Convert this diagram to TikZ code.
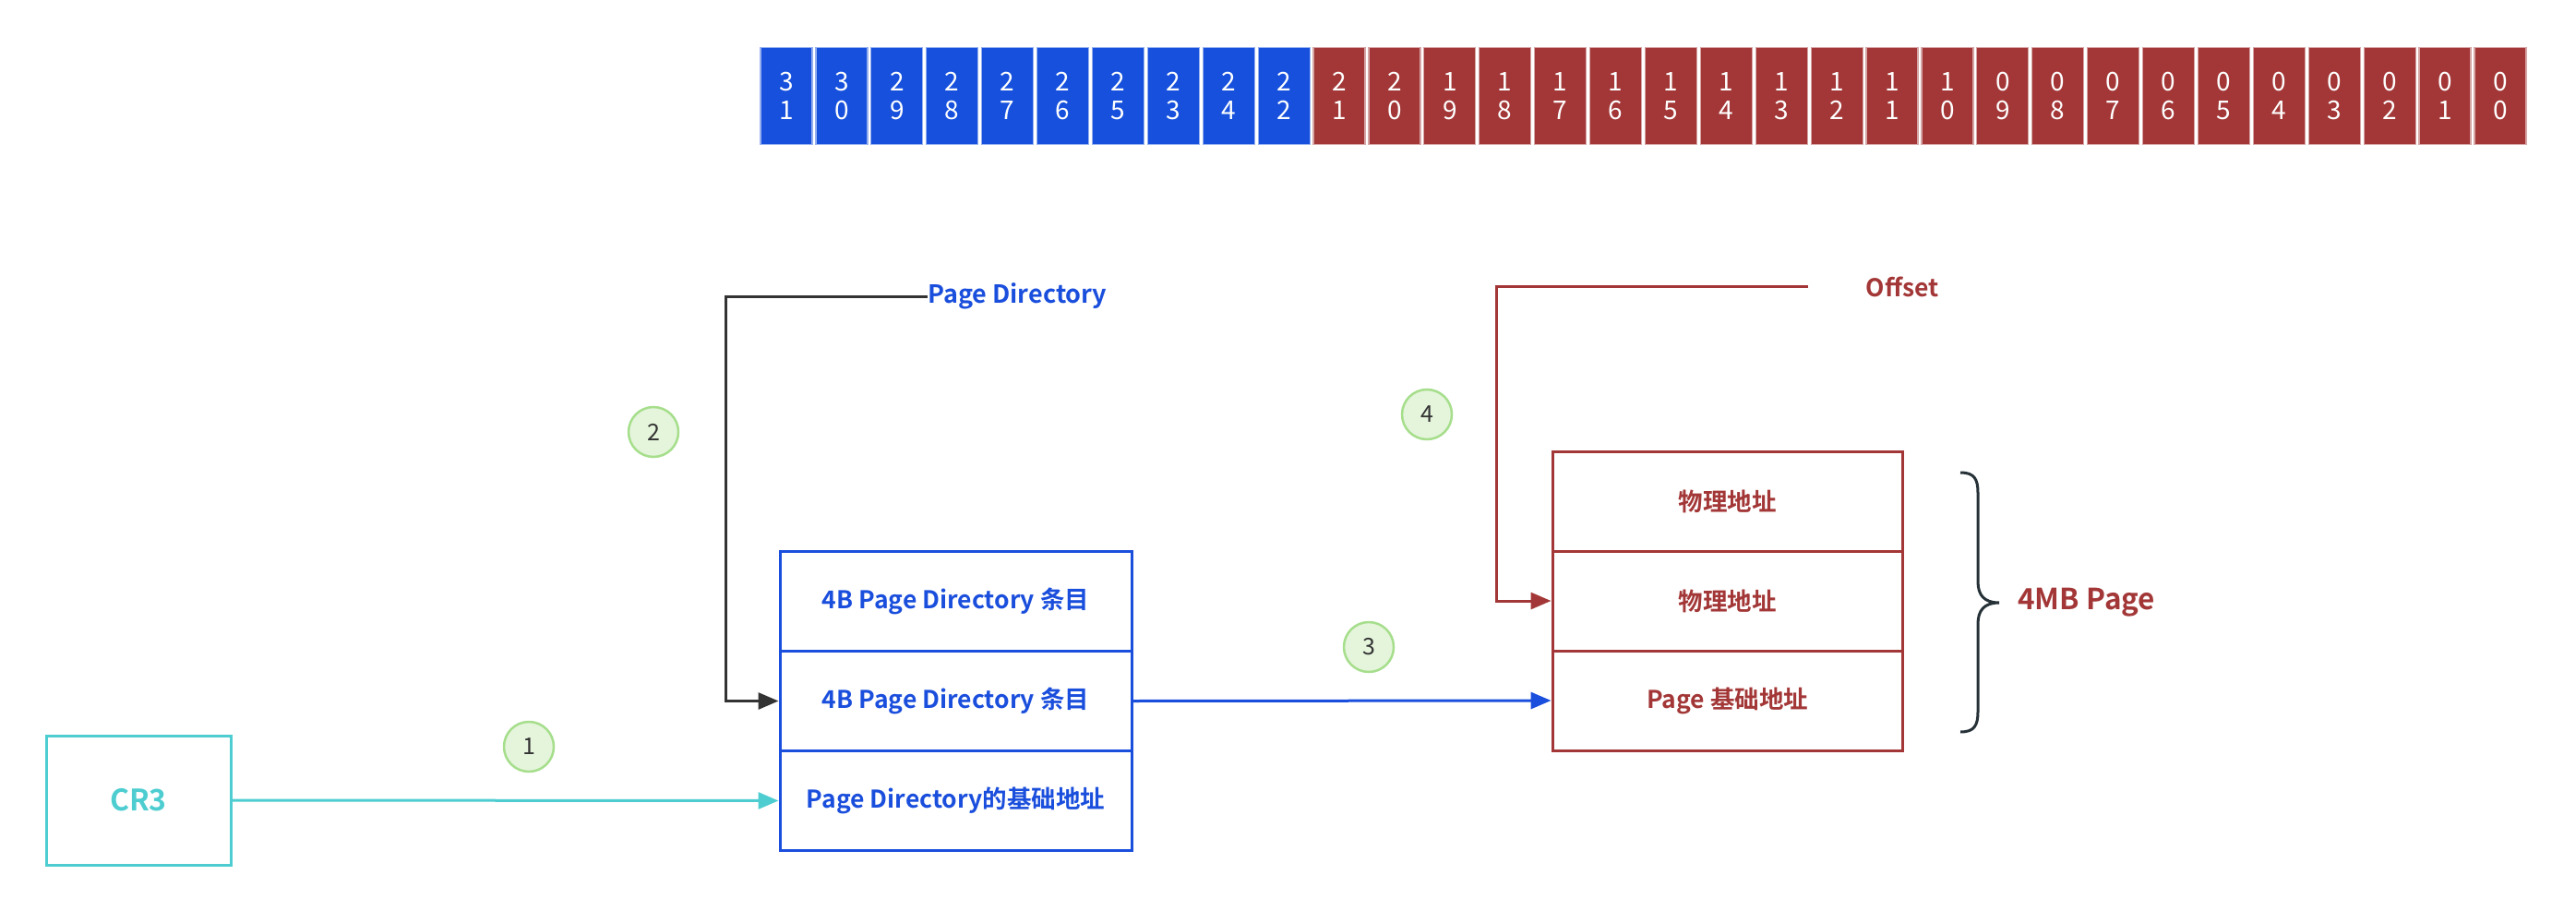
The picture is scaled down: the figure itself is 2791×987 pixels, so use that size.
\documentclass[tikz,border=0pt]{standalone}
\usepackage{fontspec}
\setmainfont{Noto Sans CJK SC}[BoldFont={Noto Sans CJK SC Bold}]
\usetikzlibrary{arrows.meta}
\definecolor{bitblue}{HTML}{1650DC}
\definecolor{bitred}{HTML}{A33737}
\definecolor{pdblue}{HTML}{1A4EDC}
\definecolor{pgred}{HTML}{A33737}
\definecolor{cyanc}{HTML}{4ECDD1}
\definecolor{darkc}{HTML}{333333}
\definecolor{bracec}{HTML}{263238}
\definecolor{stepfill}{HTML}{E5F5DC}
\definecolor{stepdraw}{HTML}{A6DE8C}
\begin{document}
\begin{tikzpicture}[x=1pt,y=-1pt,
  bitcell/.style={minimum width=56pt, minimum height=105pt, inner sep=0pt,
    draw=#1!45!white, line width=1.2pt, fill=#1, text=white, align=center,
    font=\fontsize{28}{31}\selectfont},
  pdrow/.style={draw=pdblue, line width=3pt, minimum width=381pt, minimum height=108pt,
    inner sep=0pt, text=pdblue, font=\fontsize{26.5}{30}\selectfont\bfseries},
  pgrow/.style={draw=pgred, line width=3pt, minimum width=379pt, minimum height=108pt,
    inner sep=0pt, text=pgred, font=\fontsize{26.5}{30}\selectfont\bfseries},
  stepnum/.style={circle, draw=stepdraw, fill=stepfill, line width=2.5pt,
    minimum size=54pt, inner sep=0pt, text=darkc, font=\fontsize{25}{28}\selectfont},
  arr/.style={line width=3pt, -{Triangle[length=22pt,width=18pt]}}
]
\useasboundingbox (0,0) rectangle (2791,987);

% bit bar
\foreach \a/\b [count=\i from 0] in {3/1,3/0,2/9,2/8,2/7,2/6,2/5,2/3,2/4,2/2,2/1,2/0,1/9,1/8,1/7,1/6,1/5,1/4,1/3,1/2,1/1,1/0,0/9,0/8,0/7,0/6,0/5,0/4,0/3,0/2,0/1,0/0} {
  \pgfmathsetmacro\cx{852+\i*59.9}
  \ifnum\i<10 \def\cc{bitblue}\else\def\cc{bitred}\fi
  \node[bitcell=\cc] (bit\i) at (\cx,104) {\a\\\b};
}

% CR3
\node[draw=cyanc, line width=3pt, minimum width=200pt, minimum height=140pt, inner sep=0pt,
  text=cyanc, font=\fontsize{32}{36}\selectfont\bfseries] (cr3) at (150,867) {CR3};

% Page directory table
\node[pdrow] (pd1) at (1035.5,651.5) {4B Page Directory 条目};
\node[pdrow] (pd2) at (1035.5,759.5) {4B Page Directory 条目};
\node[pdrow] (pd3) at (1035.5,867.5) {Page Directory的基础地址};

% 4MB page table
\node[pgrow] (pg1) at (1871.5,543) {物理地址};
\node[pgrow] (pg2) at (1871.5,651) {物理地址};
\node[pgrow] (pg3) at (1871.5,759) {Page 基础地址};

% labels
\node[anchor=west, inner sep=0pt, text=pdblue, font=\fontsize{27}{30}\selectfont\bfseries] (pdlbl) at (1005,321) {Page Directory};
\node[inner sep=0pt, text=pgred, font=\fontsize{26.5}{30}\selectfont\bfseries] (offlbl) at (2061,311) {Offset};
\node[anchor=west, inner sep=0pt, text=pgred, font=\fontsize{31.5}{36}\selectfont\bfseries] (mb4) at (2186,653) {4MB Page};
\coordinate (offend) at (1959,310);

% steps
\node[stepnum] (s1) at (573,809) {1};
\node[stepnum] (s2) at (708,468) {2};
\node[stepnum] (s3) at (1483,701) {3};
\node[stepnum] (s4) at (1546,449) {4};

% connectors
\draw[arr, cyanc] (cr3.east) -- (pd3.west);
\draw[arr, darkc] (pdlbl.west) -- ++(-219,0) |- (pd2.west);
\draw[arr, pdblue] (pd2.east) -- (pg3.west);
\draw[arr, pgred] (offend) -- ++(-338,0) |- (pg2.west);

% brace
\draw[bracec, line width=3pt] (2124,512) .. controls (2139,512) and (2143,519) .. (2143,534)
  -- (2143,630) .. controls (2143,645) and (2150,653) .. (2166,653)
  .. controls (2150,653) and (2143,661) .. (2143,676)
  -- (2143,771) .. controls (2143,786) and (2139,793) .. (2124,793);
\end{tikzpicture}
\end{document}
